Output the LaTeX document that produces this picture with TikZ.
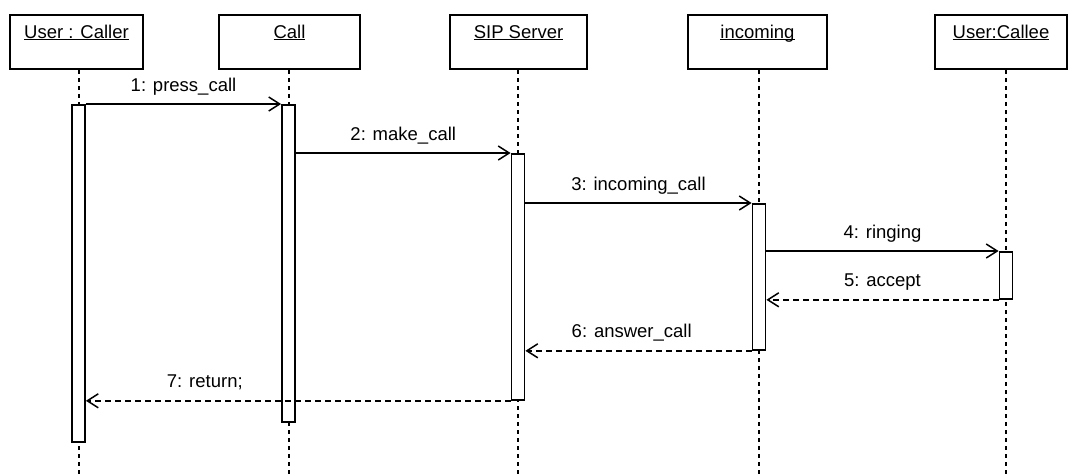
\documentclass[tikz,border=0pt]{standalone}
\usepackage{fontspec}
\setmainfont{Liberation Sans}
\usepackage{tikz}
\usetikzlibrary{arrows.meta}

\newcommand{\ulbl}[1]{\underline{\smash{#1}}}

\begin{document}
\begin{tikzpicture}[x=1pt,y=-1pt,
    head/.style={draw, line width=2pt, anchor=north, inner sep=0pt,
      text height=23pt, text depth=31pt, font=\fontsize{18.5}{20}\selectfont},
    life/.style={line width=2pt, dash pattern=on 4pt off 4pt},
    bar/.style={draw, fill=white, line width=1.8pt, anchor=north, inner sep=0pt,
      minimum width=13pt},
    msg/.style={line width=1.5pt, -{Straight Barb[length=11pt,width=14pt]}},
    ret/.style={msg, dash pattern=on 6pt off 4pt},
    lbl/.style={anchor=base, yshift=13pt, inner sep=0pt,
      font=\fontsize{18.5}{20}\selectfont}]
    \useasboundingbox (0,0) rectangle (1068,475);

    % object heads
    \node[head, minimum width=133pt] (hCaller) at (76.5,14) {\ulbl{User : Caller}};
    \node[head, minimum width=141pt] (hCall) at (289.5,14) {\ulbl{Call}};
    \node[head, minimum width=137pt] (hSip) at (518.5,14) {\ulbl{SIP Server}};
    \node[head, minimum width=139pt] (hInc) at (757.5,14) {\ulbl{incoming}};
    \node[head, minimum width=132pt] (hCallee) at (1001,14) {\ulbl{User:Callee}};

    % lifelines
    \coordinate (eCaller) at (78.5,475);
    \coordinate (eCall) at (288.5,475);
    \coordinate (eSip) at (518,475);
    \coordinate (eInc) at (759,475);
    \coordinate (eCallee) at (1006,475);
    \draw[life] (eCaller |- hCaller.south) -- (eCaller);
    \draw[life] (eCall |- hCall.south) -- (eCall);
    \draw[life] (eSip |- hSip.south) -- (eSip);
    \draw[life] (eInc |- hInc.south) -- (eInc);
    \draw[life] (eCallee |- hCallee.south) -- (eCallee);

    % activations
    \node[bar, minimum height=337pt] (aCaller) at (78.5,104) {};
    \node[bar, minimum height=317pt] (aCall) at (288.5,104) {};
    \node[bar, minimum height=246pt] (aSip) at (518,153) {};
    \node[bar, minimum height=146pt] (aInc) at (759,203) {};
    \node[bar, minimum height=47pt] (aCallee) at (1006,251) {};

    % messages
    \draw[msg] (aCaller.north east) -- (aCall.north west)
      node[lbl, midway] {1: press\_call};
    \draw[msg] (aCall.east |- aSip.north) -- (aSip.north west)
      node[lbl, midway] {2: make\_call};
    \draw[msg] (aSip.east |- aInc.north) -- (aInc.north west)
      node[lbl, midway] {3: incoming\_call};
    \draw[msg] (aInc.east |- aCallee.north) -- (aCallee.north west)
      node[lbl, midway] {4: ringing};
    \draw[ret] (aCallee.south west) -- (aInc.east |- aCallee.south)
      node[lbl, midway] {5: accept};
    \draw[ret] (aInc.south west) -- (aSip.east |- aInc.south)
      node[lbl, pos=0.53] {6: answer\_call};
    \draw[ret] (aSip.south west) -- (aCaller.east |- aSip.south)
      node[lbl, pos=0.72] {7: return;};
\end{tikzpicture}
\end{document}
